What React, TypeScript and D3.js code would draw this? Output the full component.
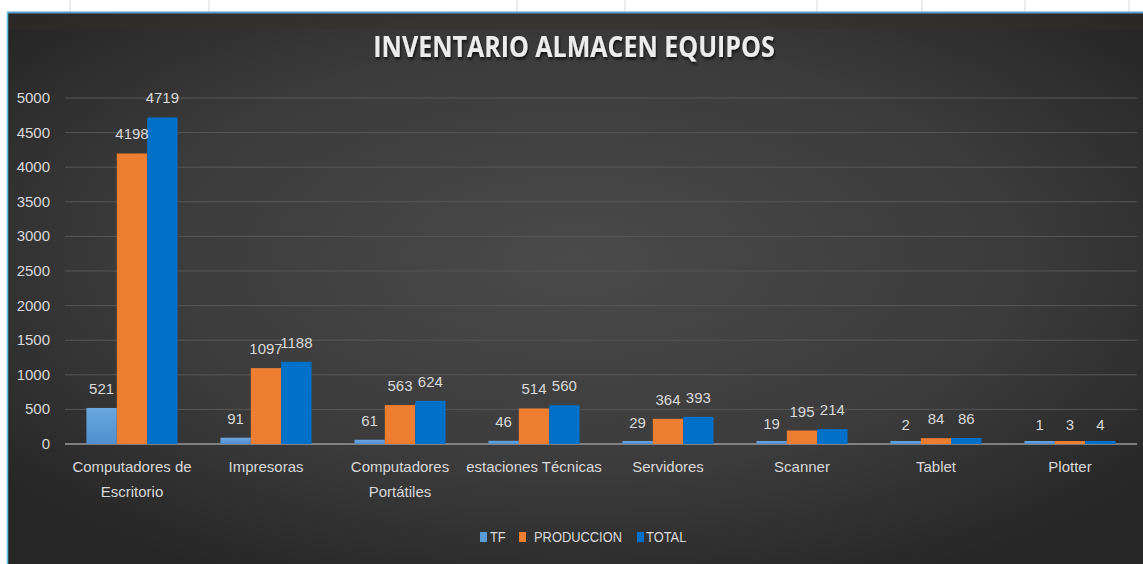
import React from "react";
import { scaleBand, scaleLinear } from "d3";

const categories = [
  ["Computadores de", "Escritorio"],
  ["Impresoras"],
  ["Computadores", "Portátiles"],
  ["estaciones Técnicas"],
  ["Servidores"],
  ["Scanner"],
  ["Tablet"],
  ["Plotter"],
];
const seriesNames = ["TF", "PRODUCCION", "TOTAL"];
const tfValues = [521, 91, 61, 46, 29, 19, 2, 1];
const produccionValues = [4198, 1097, 563, 514, 364, 195, 84, 3];
const totalValues = [4719, 1188, 624, 560, 393, 214, 86, 4];
const yTicks = [0, 500, 1000, 1500, 2000, 2500, 3000, 3500, 4000, 4500, 5000];
const colors = ["url(#tfGrad)", "#ed7d31", "#0070c8"];
const legendColors = ["#5b9bd5", "#ed7d31", "#0070c8"];

const W = 1143;
const H = 564;
const font = "'Liberation Sans', Arial, sans-serif";
const txt = "#d9d9d9";

function App() {
  const series = [tfValues, produccionValues, totalValues];
  const keys = categories.map((c) => c.join(" "));

  const x = scaleBand().domain(keys).range([65, 1137]).paddingInner(0.32).paddingOuter(0.16);
  const xs = scaleBand().domain(seriesNames).range([0, x.bandwidth()]);
  const y = scaleLinear().domain([0, 5000]).range([444, 98]);

  const legendX = [480, 519, 637];
  const legendTextX = [490, 534, 646];

  return (
    <svg width={W} height={H} style={{ position: "absolute", left: 0, top: 0 }}>
      <defs>
        <radialGradient id="bg" cx="0.5" cy="0.45" r="0.65">
          <stop offset="0" stopColor="#4a4a4a" />
          <stop offset="0.6" stopColor="#3b3b3b" />
          <stop offset="1" stopColor="#262626" />
        </radialGradient>
        <linearGradient id="tfGrad" x1="0" y1="0" x2="0" y2="1">
          <stop offset="0" stopColor="#6aa7e0" />
          <stop offset="1" stopColor="#4f8fcf" />
        </linearGradient>
        <filter id="shadow" x="-5%" y="-20%" width="110%" height="150%">
          <feDropShadow dx="1" dy="2" stdDeviation="1.2" floodColor="#000" floodOpacity="0.7" />
        </filter>
      </defs>
      <rect x={0} y={0} width={W} height={H} fill="#fff" />
      {[70, 209, 517, 625, 817, 922, 1025, 1129].map((gx) => (
        <line key={gx} x1={gx} x2={gx} y1={0} y2={12} stroke="#d8d8d8" />
      ))}
      <rect x={8} y={13} width={W - 8} height={H - 13} fill="url(#bg)" />
      <rect x={8} y={13} width={W - 8} height={16} fill="#3a2e26" opacity={0.35} />
      <line x1={7} x2={W} y1={12.5} y2={12.5} stroke="#5b9bd5" strokeWidth={2} />
      <line x1={7.5} x2={7.5} y1={12} y2={H} stroke="#5bc0de" strokeWidth={1.5} />

      <text
        textAnchor="middle"
        fill="#ececec"
        fontFamily="'Open Sans', sans-serif"
        fontWeight="bold"
        fontSize={25}
        filter="url(#shadow)"
        transform="translate(574,57) scale(1,1.15)"
      >
        INVENTARIO ALMACEN EQUIPOS
      </text>

      {yTicks.map((t) => (
        <g key={t}>
          <line
            x1={65}
            x2={1137}
            y1={y(t)}
            y2={y(t)}
            stroke={t === 0 ? "#9a9a9a" : "#575757"}
            strokeWidth={t === 0 ? 1.5 : 1}
          />
          <text x={50} y={y(t) + 5} textAnchor="end" fill={txt} fontFamily={font} fontSize={15}>
            {t}
          </text>
        </g>
      ))}

      {keys.map((k, i) => (
        <g key={k} transform={`translate(${x(k)},0)`}>
          {series.map((vals, s) => (
            <rect
              key={s}
              x={xs(seriesNames[s])}
              y={Math.min(y(vals[i]), y(0) - 3)}
              width={xs.bandwidth()}
              height={Math.max(y(0) - y(vals[i]), 3)}
              fill={colors[s]}
            />
          ))}
          {series.map((vals, s) => (
            <text
              key={"l" + s}
              x={(xs(seriesNames[s]) || 0) + xs.bandwidth() / 2}
              y={y(vals[i]) - 14}
              textAnchor="middle"
              fill={txt}
              fontFamily={font}
              fontSize={15}
            >
              {vals[i]}
            </text>
          ))}
          {categories[i].map((line, j) => (
            <text
              key={j}
              x={x.bandwidth() / 2}
              y={472 + j * 25}
              textAnchor="middle"
              fill={txt}
              fontFamily={font}
              fontSize={15}
            >
              {line}
            </text>
          ))}
        </g>
      ))}

      {seriesNames.map((n, s) => (
        <g key={n}>
          <rect x={legendX[s]} y={532} width={7} height={10} fill={legendColors[s]} />
          <text
            fill={txt}
            fontFamily={font}
            fontSize={15}
            transform={`translate(${legendTextX[s]},542) scale(0.86,1)`}
          >
            {n}
          </text>
        </g>
      ))}
    </svg>
  );
}

export default App;
